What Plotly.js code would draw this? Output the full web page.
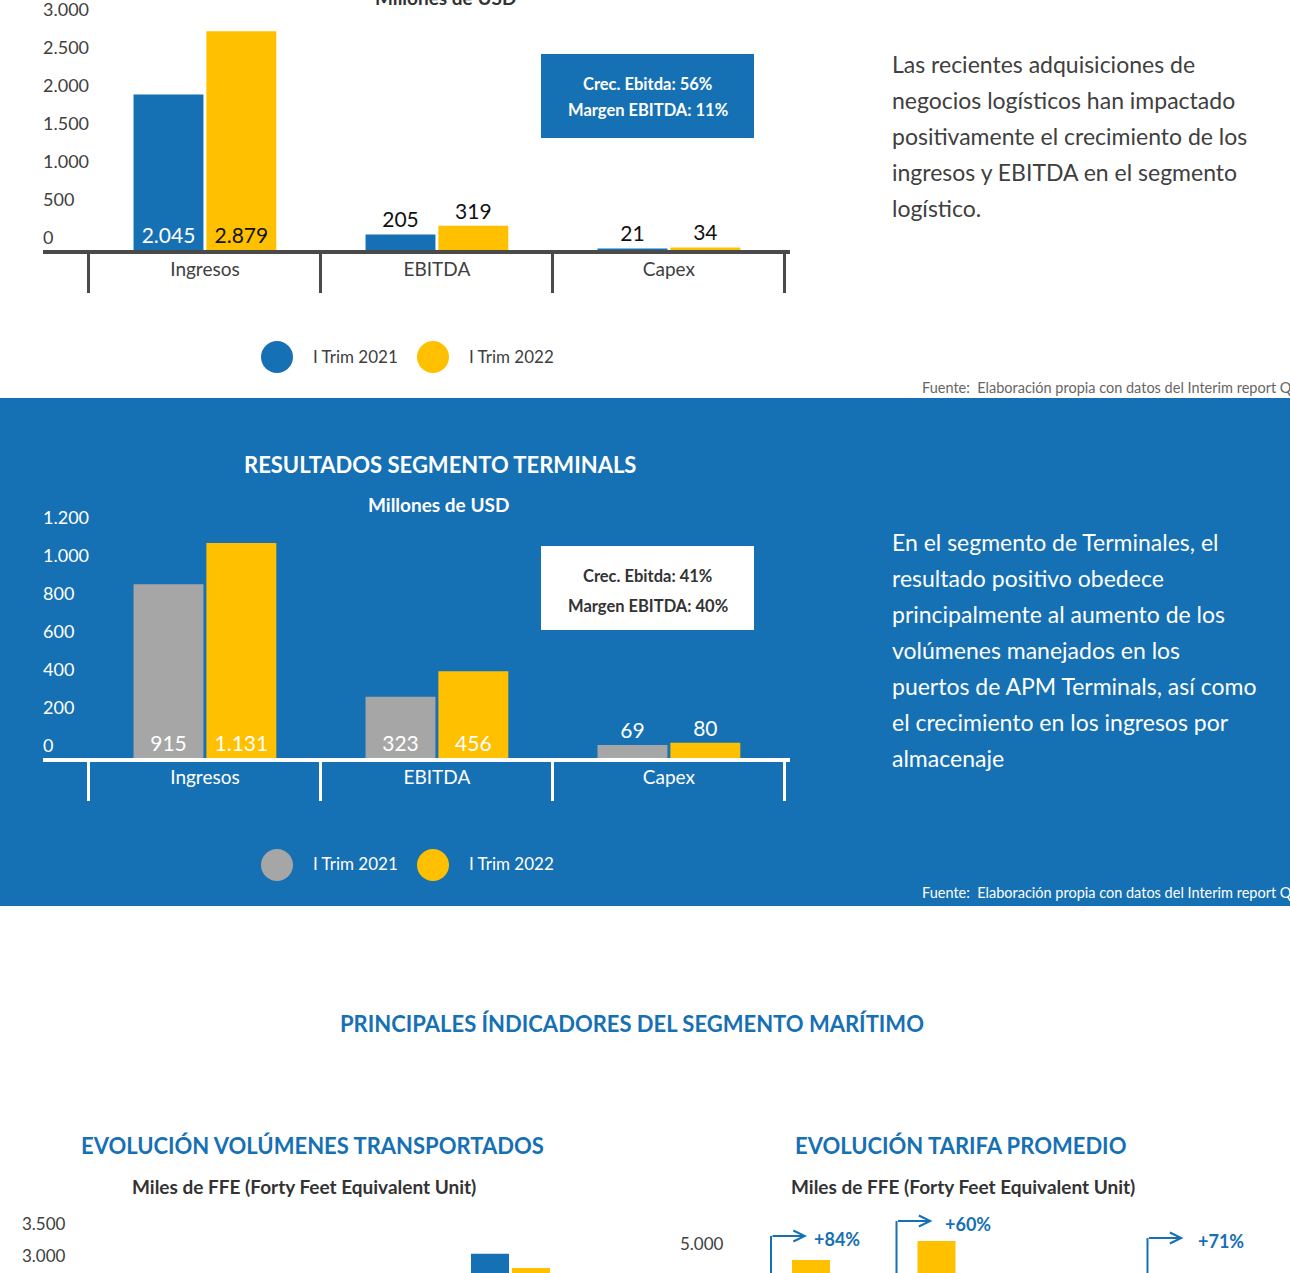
<!DOCTYPE html>
<html><head><meta charset="utf-8">
<script src="https://cdn.plot.ly/plotly-3.0.1.min.js"></script>
<style>html,body{margin:0;padding:0;background:#fff}#chart{width:1290px;height:1273px}</style>
</head><body><div id="chart"></div>
<script>
// ---------- DATA ----------
const categories = ['Ingresos', 'EBITDA', 'Capex'];
const seriesNames = ['I Trim 2021', 'I Trim 2022'];
const logistics2021 = [2045, 205, 21];
const logistics2022 = [2879, 319, 34];
const terminals2021 = [915, 323, 69];
const terminals2022 = [1131, 456, 80];
const logisticsNotes = ['Crec. Ebitda: 56%', 'Margen EBITDA: 11%'];
const terminalsNotes = ['Crec. Ebitda: 41%', 'Margen EBITDA: 40%'];
const logisticsText = ['Las recientes adquisiciones de', 'negocios logísticos han impactado', 'positivamente el crecimiento de los', 'ingresos y EBITDA en el segmento', 'logístico.'];
const terminalsText = ['En el segmento de Terminales, el', 'resultado positivo obedece', 'principalmente al aumento de los', 'volúmenes manejados en los', 'puertos de APM Terminals, así como', 'el crecimiento en los ingresos por', 'almacenaje'];
const volumeCategories = ['Total'];
const volume2021 = [3190];
const volume2022 = [2970];
const tariffGroups = [0, 1];
const tariff2022 = [4850, 5325];
const tariffArrowGroups = [0, 1, 3];
const tariffGrowth = ['+84%', '+60%', '+71%'];
const sourceNote = 'Fuente:  Elaboración propia con datos del Interim report Q1 2022';
const titles = {
  logisticsUnit: 'Millones de USD',
  terminals: 'RESULTADOS SEGMENTO TERMINALS',
  terminalsUnit: 'Millones de USD',
  maritime: 'PRINCIPALES ÍNDICADORES DEL SEGMENTO MARÍTIMO',
  volumes: 'EVOLUCIÓN VOLÚMENES TRANSPORTADOS',
  tariff: 'EVOLUCIÓN TARIFA PROMEDIO',
  ffe: 'Miles de FFE (Forty Feet Equivalent Unit)'
};

// ---------- STYLE / LAYOUT HELPERS ----------
const W = 1290, H = 1273;
const X = p => p / W;
const Y = p => 1 - p / H;
const BLUE = '#1670B4', YELLOW = '#FFC000', GRAY = '#A6A6A6', DARK = '#404040', AXIS = '#4a4a4a';
const FONT = 'Lato, "Open Sans", sans-serif';

function barTrace(x, y, name, color, ax, inCol, outCol) {
  return {
    type: 'bar', x: x, y: y, name: name, xaxis: 'x' + ax, yaxis: 'y' + ax,
    marker: {color: color, line: {width: 0}},
    texttemplate: '%{y:,.0f}', textposition: 'auto', insidetextanchor: 'start', textangle: 0,
    insidetextfont: {family: FONT, size: 21, color: inCol},
    outsidetextfont: {family: FONT, size: 21, color: outCol},
    cliponaxis: false, constraintext: 'none', hoverinfo: 'skip'
  };
}

const U3 = 126, U4 = 125.5;
const traces = [
  barTrace(categories, logistics2021, seriesNames[0], BLUE, '', '#ffffff', '#111111'),
  barTrace(categories, logistics2022, seriesNames[1], YELLOW, '', '#111111', '#111111'),
  barTrace(categories, terminals2021, seriesNames[0], GRAY, '2', '#ffffff', '#ffffff'),
  barTrace(categories, terminals2022, seriesNames[1], YELLOW, '2', '#ffffff', '#ffffff'),
  {type: 'bar', x: volumeCategories, y: volume2021, name: seriesNames[0], xaxis: 'x3', yaxis: 'y3',
   marker: {color: BLUE}, width: 38 / U3, offset: -39.5 / U3, hoverinfo: 'skip'},
  {type: 'bar', x: volumeCategories, y: volume2022, name: seriesNames[1], xaxis: 'x3', yaxis: 'y3',
   marker: {color: YELLOW}, width: 38 / U3, offset: 1.5 / U3, hoverinfo: 'skip'},
  {type: 'bar', x: tariffGroups, y: tariff2022, name: seriesNames[1], xaxis: 'x4', yaxis: 'y4',
   marker: {color: YELLOW}, width: 38 / U4, offset: 1.5 / U4, hoverinfo: 'skip'}
];

function catX(dom, anchor, col) {
  return {domain: dom, anchor: anchor, type: 'category', range: [-0.698, 2.522],
    tickson: 'boundaries', ticks: 'outside', ticklen: 39, tickwidth: 3, tickcolor: col,
    showline: true, linewidth: 4, linecolor: col, showgrid: false, zeroline: false,
    tickfont: {family: FONT, size: 19, color: col === AXIS ? DARK : '#ffffff'},
    ticklabelstandoff: -1, fixedrange: true};
}
function valY(dom, anchor, range, dtick, col, size, shift) {
  return {domain: dom, anchor: anchor, range: range, dtick: dtick, tickformat: ',.0f',
    ticklabelposition: 'inside', ticklabelshift: -shift, ticklabelstandoff: -3, ticklabeloverflow: 'allow',
    showgrid: false, zeroline: false, showline: false, ticks: '',
    tickfont: {family: FONT, size: size, color: col}, fixedrange: true};
}

const annotations = [];
function ann(text, x, y, o) {
  o = o || {};
  annotations.push(Object.assign({text: text, x: X(x), y: Y(y), xref: 'paper', yref: 'paper',
    showarrow: false, xanchor: 'center', yanchor: 'middle',
    font: {family: FONT, size: o.size || 17, color: o.color || DARK, weight: o.weight || 400}}, o.extra || {}));
}
const shapes = [];
function rect(x0, y0, x1, y1, fill, layer) {
  shapes.push({type: 'rect', xref: 'paper', yref: 'paper', x0: X(x0), x1: X(x1), y0: Y(y1), y1: Y(y0),
    fillcolor: fill, line: {width: 0}, layer: layer || 'above'});
}
function circle(cx, cy, r, fill) {
  shapes.push({type: 'circle', xref: 'paper', yref: 'paper', x0: X(cx - r), x1: X(cx + r), y0: Y(cy + r), y1: Y(cy - r),
    fillcolor: fill, line: {width: 0}});
}

// blue band
rect(0, 398, W, 906, BLUE, 'below');

// ----- section 1 (logistics) -----
ann(titles.logisticsUnit, 445, -2, {size: 19, weight: 700, color: '#333'});
rect(541, 54, 754, 138, BLUE);
ann(logisticsNotes[0], 647.5, 84, {size: 16.5, weight: 700, color: '#fff'});
ann(logisticsNotes[1], 647.5, 110, {size: 16.5, weight: 700, color: '#fff'});
logisticsText.forEach((t, i) => ann(t, 890, 64 + 36 * i, {size: 23, color: DARK, extra: {xanchor: 'left'}}));
circle(277, 357, 16, BLUE); circle(433, 357, 16, YELLOW);
ann(seriesNames[0], 311, 356, {size: 17, extra: {xanchor: 'left'}});
ann(seriesNames[1], 467, 356, {size: 17, extra: {xanchor: 'left'}});
ann(sourceNote, 920, 388, {size: 14.5, color: '#666', extra: {xanchor: 'left'}});

// ----- section 2 (terminals) -----
ann(titles.terminals, 440, 465, {size: 22, weight: 700, color: '#fff'});
ann(titles.terminalsUnit, 438, 504, {size: 19, weight: 700, color: '#fff'});
rect(541, 546, 754, 630, '#ffffff');
ann(terminalsNotes[0], 647.5, 576, {size: 16.5, weight: 700, color: '#333'});
ann(terminalsNotes[1], 647.5, 606, {size: 16.5, weight: 700, color: '#333'});
terminalsText.forEach((t, i) => ann(t, 890, 542 + 36 * i, {size: 23, color: '#fff', extra: {xanchor: 'left'}}));
circle(277, 865, 16, GRAY); circle(433, 865, 16, YELLOW);
ann(seriesNames[0], 311, 864, {size: 17, color: '#fff', extra: {xanchor: 'left'}});
ann(seriesNames[1], 467, 864, {size: 17, color: '#fff', extra: {xanchor: 'left'}});
ann(sourceNote, 920, 892, {size: 14.5, color: '#fff', extra: {xanchor: 'left'}});

// ----- section 3 (maritime) -----
ann(titles.maritime, 632, 1023, {size: 22, weight: 700, color: BLUE});
ann(titles.volumes, 312, 1145, {size: 22, weight: 700, color: BLUE});
ann(titles.ffe, 304, 1186, {size: 19, weight: 700, color: '#333'});
ann(titles.tariff, 960, 1145, {size: 22, weight: 700, color: BLUE});
ann(titles.ffe, 963, 1186, {size: 19, weight: 700, color: '#333'});

// tariff growth brackets (positions in px, style only)
const arrowTopPx = [1236, 1221, 1238];
const arrowTextGapPx = [41, 46, 48];
tariffArrowGroups.forEach((g, i) => {
  const xv = g - 19.5 / U4;
  shapes.push({type: 'line', xref: 'x4', yref: 'paper', x0: xv, x1: xv, y0: 0, y1: Y(arrowTopPx[i]),
    line: {color: BLUE, width: 2}});
  annotations.push({text: '', xref: 'x4', yref: 'paper', x: xv + 36 / U4, y: Y(arrowTopPx[i]),
    showarrow: true, ax: -36, ay: 0, axref: 'pixel', ayref: 'pixel', arrowhead: 5, arrowsize: 1.1,
    arrowwidth: 2, arrowcolor: BLUE, standoff: 0, startstandoff: 0});
  annotations.push({text: tariffGrowth[i], xref: 'x4', yref: 'paper', x: xv + arrowTextGapPx[i] / U4, y: Y(arrowTopPx[i] + 3),
    xanchor: 'left', yanchor: 'middle', showarrow: false,
    font: {family: FONT, size: 18, weight: 700, color: BLUE}});
});

const layout = {
  width: W, height: H, margin: {l: 0, r: 0, t: 0, b: 0, pad: 0},
  paper_bgcolor: '#ffffff', plot_bgcolor: 'rgba(0,0,0,0)',
  barmode: 'group', bargap: 0.372, bargroupgap: 0.04, separators: ',.',
  showlegend: false, font: {family: FONT, color: DARK},
  xaxis: catX([X(43), X(790)], 'y', AXIS),
  yaxis: valY([Y(250), Y(22)], 'x', [0, 3000], 500, DARK, 18, 12),
  xaxis2: catX([X(43), X(790)], 'y2', '#ffffff'),
  yaxis2: valY([Y(758), Y(530)], 'x2', [0, 1200], 200, '#ffffff', 18, 12),
  xaxis3: {domain: [X(22), X(620)], anchor: 'y3', type: 'category', range: [-(510.5 - 22) / U3, (620 - 510.5) / U3],
    visible: false, fixedrange: true},
  yaxis3: valY([0, Y(1210)], 'x3', [2890.6, 3875], 500, DARK, 17, 10),
  xaxis4: {domain: [X(680), X(1280)], anchor: 'y4', range: [-(790.5 - 680) / U4, (1280 - 790.5) / U4],
    visible: false, fixedrange: true},
  yaxis4: valY([0, Y(1225)], 'x4', [4525, 5725], 1000, DARK, 17, 10),
  shapes: shapes, annotations: annotations
};

Plotly.newPlot('chart', traces, layout, {displayModeBar: false, staticPlot: true});
</script>
</body></html>
